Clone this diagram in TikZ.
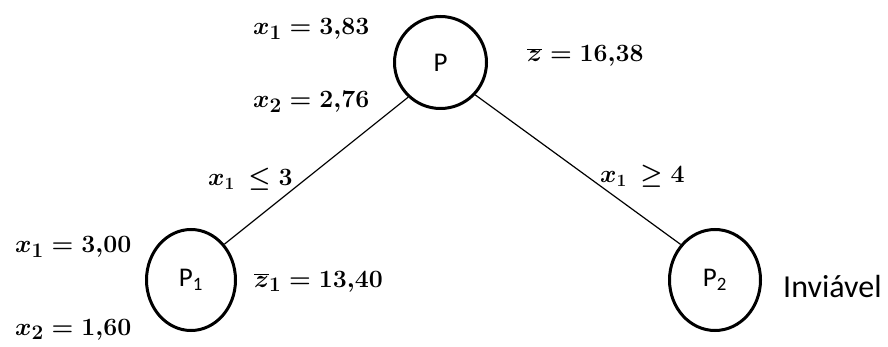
\documentclass[tikz,border=0pt]{standalone}
\usepackage[no-math]{fontspec}
\setmainfont{Carlito}
\usetikzlibrary{shapes.geometric}
\tikzset{
  state/.style={ellipse, draw, line width=3pt, inner sep=0pt, font=\fontsize{27}{30}\selectfont},
  vals/.style={anchor=base west, inner sep=0pt, font=\fontsize{29}{32}\selectfont\boldmath},
  cut/.style={anchor=base west, inner sep=0pt, font=\fontsize{25}{28}\selectfont\boldmath},
  branch/.style={line width=1.2pt},
  note/.style={anchor=base west, inner sep=0pt, font=\fontsize{32}{36}\selectfont}
}
\begin{document}
\begin{tikzpicture}[x=1pt,y=-1pt]
\useasboundingbox (0,0) rectangle (888,347);
\node[state, minimum width=92pt, minimum height=92pt] (P) at (440.5,62.5) {P};
\node[state, minimum width=89pt, minimum height=101pt] (P1) at (191,280) {P\textsubscript{1}};
\node[state, minimum width=91pt, minimum height=101pt] (P2) at (715,280) {P\textsubscript{2}};
\draw[branch] (P.227) -- (P1.47);
\draw[branch] (P.317.5) -- (P2.134);
\node[vals] (a1) at (253,35) {$x_1 = 3{,}83$};
\node[vals] (a2) at (253,108) {$x_2 = 2{,}76$};
\node[vals] (az) at (527,62) {$\overline{z} = 16{,}38$};
\node[cut] (c1) at (208,186) {$x_1\ \leq 3$};
\node[cut] (c2) at (600,183) {$x_1\ \geq 4$};
\node[vals] (b1) at (15,253) {$x_1 = 3{,}00$};
\node[vals] (b2) at (15,335) {$x_2 = 1{,}60$};
\node[vals] (bz) at (254,287) {$\overline{z}_1 = 13{,}40$};
\node[note] (inv) at (783,297) {Inviável};
\end{tikzpicture}
\end{document}
